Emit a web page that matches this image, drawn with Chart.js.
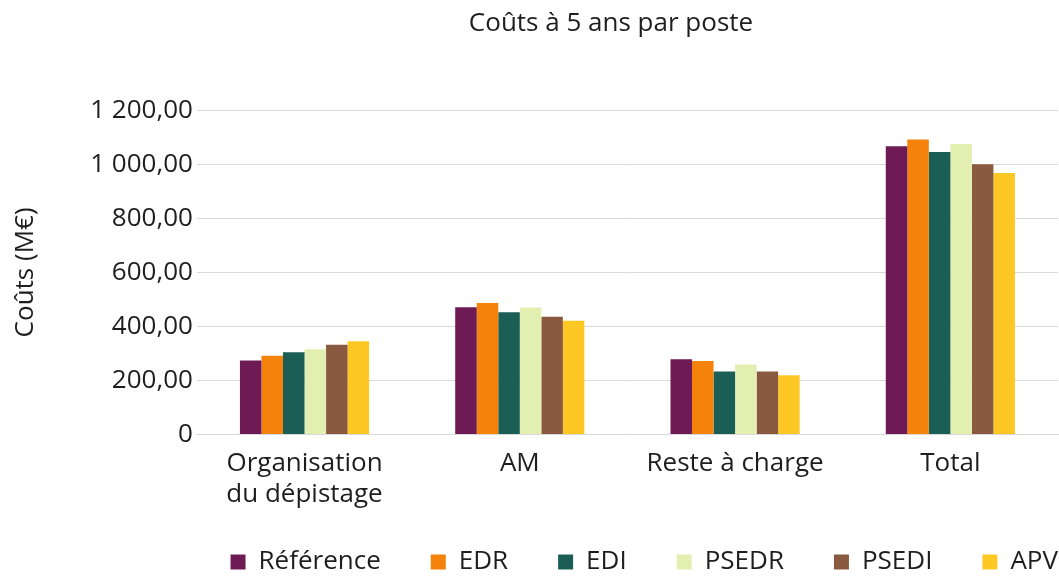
<!DOCTYPE html>
<html lang="fr">
<head>
    <meta charset="UTF-8">
    <title>Coûts à 5 ans par poste</title>
    <script src="https://cdn.jsdelivr.net/npm/chart.js"></script>
    <style>
        body {
            margin: 0;
            padding: 0;
            background: #ffffff;
        }
        .chart-container {
            width: 1059px;
            height: 576px;
        }
    </style>
</head>
<body>
    <div class="chart-container">
        <canvas id="coutsChart" width="1059" height="576"></canvas>
    </div>

    <script>
        // catégories (axe X)
        const categories = [['Organisation', 'du dépistage'], 'AM', 'Reste à charge', 'Total'];

        // valeurs par scénario (M€)
        const reference = [274, 471, 279, 1067];
        const edr = [292, 487, 272, 1092];
        const edi = [305, 453, 233, 1045];
        const psedr = [316, 470, 259, 1075];
        const psedi = [332, 436, 233, 1000];
        const apv = [345, 421, 220, 968];

        const yTicks = [0, 200, 400, 600, 800, 1000, 1200];

        const seriesNames = ['Référence', 'EDR', 'EDI', 'PSEDR', 'PSEDI', 'APV'];
        const seriesData = [reference, edr, edi, psedr, psedi, apv];
        const colors = ['#6d1a55', '#f5820b', '#1b5e55', '#e3efb0', '#8a5a40', '#fec824'];

        const fontFamily = '"Open Sans", sans-serif';
        const fontSize = 26;
        const legendGap = 50;

        // format français : 1 200,00
        function formatFr(v) {
            if (v === 0) return '0';
            const parts = v.toFixed(2).split('.');
            const ent = parts[0].replace(/\B(?=(\d{3})+(?!\d))/g, ' ');
            return ent + ',' + parts[1];
        }

        // recale la légende (à droite, plus bas) et le titre (centré sur la zone du graphique)
        const blockShift = {
            id: 'blockShift',
            afterLayout(chart) {
                const lg = chart.legend;
                lg.left += legendGap;
                lg.right += legendGap;
                lg.top = 562 - fontSize / 2 - legendGap;
                lg.bottom = chart.height;
                chart.titleBlock.left += 80;
                chart.titleBlock.right += 80;
            }
        };

        const ctx = document.getElementById('coutsChart').getContext('2d');
        const coutsChart = new Chart(ctx, {
            type: 'bar',
            data: {
                labels: categories,
                datasets: seriesNames.map((name, i) => ({
                    label: name,
                    data: seriesData[i],
                    backgroundColor: colors[i],
                    borderWidth: 0,
                    categoryPercentage: 0.6,
                    barPercentage: 1.0
                }))
            },
            options: {
                responsive: false,
                animation: false,
                layout: {
                    padding: { left: 4, right: 1, top: 0, bottom: 0 }
                },
                scales: {
                    x: {
                        grid: { display: false },
                        border: { color: '#d9d9d9', width: 1 },
                        ticks: {
                            color: '#1e1e1e',
                            font: { family: fontFamily, size: fontSize },
                            padding: 5,
                            maxRotation: 0
                        }
                    },
                    y: {
                        min: 0,
                        max: 1200,
                        afterBuildTicks: (axis) => {
                            axis.ticks = yTicks.map(v => ({ value: v }));
                        },
                        grid: { color: '#d9d9d9', lineWidth: 1, drawTicks: false },
                        border: { display: false },
                        ticks: {
                            color: '#1e1e1e',
                            font: { family: fontFamily, size: fontSize },
                            padding: 4,
                            callback: (v) => formatFr(v)
                        },
                        title: {
                            display: true,
                            text: 'Coûts (M€)',
                            color: '#1e1e1e',
                            font: { family: fontFamily, size: fontSize },
                            padding: { top: 6, bottom: 45 }
                        }
                    }
                },
                plugins: {
                    title: {
                        display: true,
                        text: 'Coûts à 5 ans par poste',
                        color: '#1e1e1e',
                        font: { family: fontFamily, size: fontSize, weight: 'normal' },
                        padding: { top: 8, bottom: 71 }
                    },
                    legend: {
                        position: 'bottom',
                        align: 'end',
                        maxHeight: 61,
                        labels: {
                            color: '#1e1e1e',
                            font: { family: fontFamily, size: fontSize },
                            boxWidth: 15,
                            boxHeight: 15,
                            padding: legendGap
                        }
                    },
                    tooltip: { enabled: false }
                }
            },
            plugins: [blockShift]
        });
    </script>
</body>
</html>
